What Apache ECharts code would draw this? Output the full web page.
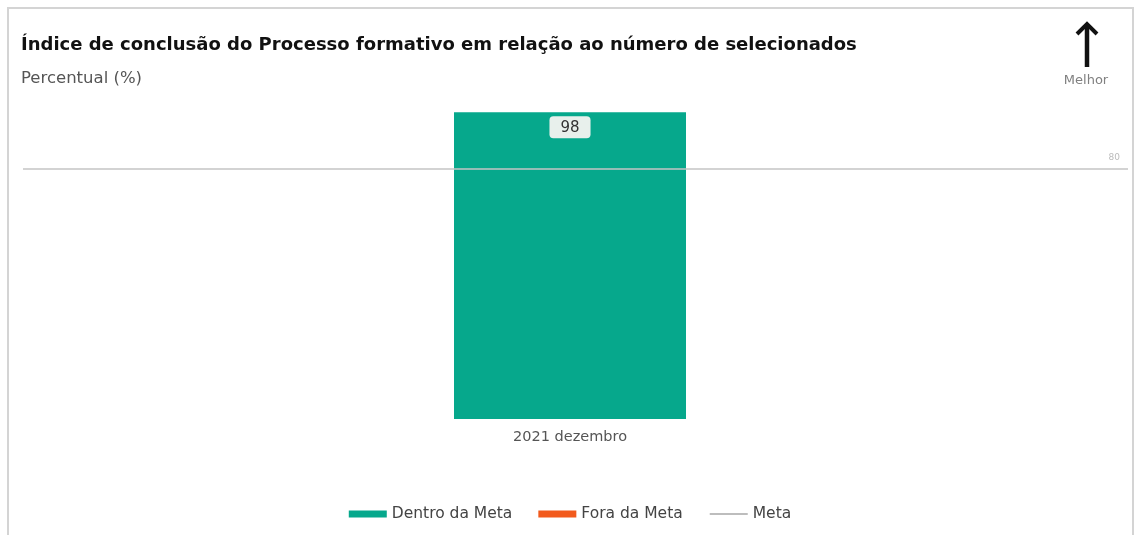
<!DOCTYPE html>
<html>
<head>
<meta charset="utf-8">
<script src="https://cdn.jsdelivr.net/npm/echarts@6/dist/echarts.min.js"></script>
<style>
html,body{margin:0;padding:0;background:#fff;}
#c{width:1140px;height:535px;}
</style>
</head>
<body>
<div id="c"></div>
<script>
var categories = ['2021 dezembro'];
var dentroDaMeta = [98];
var foraDaMeta = ['-'];
var metaValue = 80;
var titleText = 'Índice de conclusão do Processo formativo em relação ao número de selecionados';
var subtitleText = 'Percentual (%)';
var legendNames = ['Dentro da Meta', 'Fora da Meta', 'Meta'];

var chart = echarts.init(document.getElementById('c'));
var FONT = '"DejaVu Sans", "Noto Sans", sans-serif';
var yCommon = { type: 'value', min: 0, max: 100, show: false, splitLine: { show: false } };

chart.setOption({
  animation: false,
  backgroundColor: '#ffffff',
  title: [
    { text: titleText, left: 16, top: 31, textStyle: { fontFamily: FONT, fontSize: 18, fontWeight: 'bold', color: '#111' } },
    { text: subtitleText, left: 16, top: 65, textStyle: { fontFamily: FONT, fontSize: 16.5, fontWeight: 'normal', color: '#555' } }
  ],
  graphic: [
    { type: 'rect', shape: { x: 8, y: 8, width: 1125, height: 540 }, style: { fill: 'none', stroke: '#d4d4d4', lineWidth: 2 }, silent: true, z: -1 },
    { type: 'line', shape: { x1: 1087, y1: 26, x2: 1087, y2: 67 }, style: { stroke: '#111', lineWidth: 4.5 } },
    { type: 'polyline', shape: { points: [[1077, 34], [1087, 24], [1097, 34]] }, style: { stroke: '#111', lineWidth: 4, fill: 'none', lineJoin: 'miter' } },
    { type: 'text', x: 1086, y: 74, style: { text: 'Melhor', fontFamily: FONT, fontSize: 13, fill: '#808080', align: 'center' } }
  ],
  legend: {
    bottom: 8, left: 'center', itemGap: 26,
    itemWidth: 38, itemHeight: 7,
    textStyle: { fontFamily: FONT, fontSize: 15.5, color: '#444', padding: [0, 0, 0, 0] },
    data: [
      { name: legendNames[0], icon: 'rect' },
      { name: legendNames[1], icon: 'rect' },
      { name: legendNames[2], itemStyle: { opacity: 0 } }
    ]
  },
  grid: [
    { left: 23, right: 23, top: 106, bottom: 116 },
    { left: 23, right: 12, top: 106, bottom: 116 }
  ],
  xAxis: [
    { type: 'category', gridIndex: 0, data: categories,
      axisLine: { show: false }, axisTick: { show: false },
      axisLabel: { fontFamily: FONT, fontSize: 14.5, color: '#555', margin: 11 } },
    { type: 'category', gridIndex: 1, data: categories, show: false }
  ],
  yAxis: [
    Object.assign({ gridIndex: 0 }, yCommon),
    Object.assign({ gridIndex: 1 }, yCommon)
  ],
  series: [
    { name: legendNames[0], type: 'bar', stack: 'v', xAxisIndex: 0, yAxisIndex: 0,
      barWidth: 232, data: dentroDaMeta,
      itemStyle: { color: '#06a88c' },
      label: { show: true, position: 'insideTop', distance: 4,
        fontFamily: FONT, fontSize: 15, color: '#333',
        backgroundColor: '#e8f0ec', borderRadius: 4, padding: [4, 11, 3, 11] } },
    { name: legendNames[1], type: 'bar', stack: 'v', xAxisIndex: 0, yAxisIndex: 0,
      barWidth: 232, data: foraDaMeta,
      itemStyle: { color: '#f25a1c' } },
    { name: legendNames[2], type: 'line', xAxisIndex: 1, yAxisIndex: 1,
      data: [], symbol: 'none', showSymbol: false,
      lineStyle: { color: '#bdbdbd', width: 1.5 },
      itemStyle: { color: '#bdbdbd' },
      markLine: { silent: true, symbol: 'none',
        lineStyle: { color: '#c4c4c4', width: 1.5, type: 'solid' },
        label: { show: true, position: 'insideEndTop', formatter: String(metaValue),
          fontFamily: FONT, fontSize: 9, color: '#bbb', distance: [8, 6] },
        data: [{ yAxis: metaValue }] } }
  ]
});
</script>
</body>
</html>
